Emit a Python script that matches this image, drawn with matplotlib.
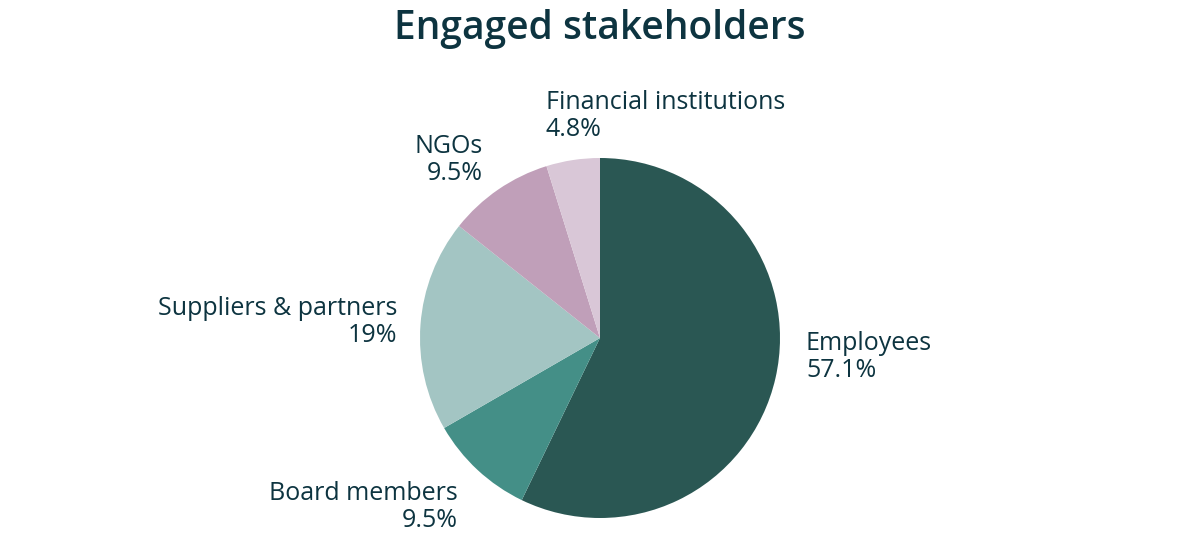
import matplotlib
matplotlib.use("Agg")
import matplotlib.pyplot as plt

plt.rcParams['font.family'] = ['Open Sans', 'DejaVu Sans']

# data
categories = ['Employees', 'Board members', 'Suppliers & partners', 'NGOs', 'Financial institutions']
shares = [57.1, 9.5, 19.0, 9.5, 4.8]
pct_labels = ['57.1%', '9.5%', '19%', '9.5%', '4.8%']
colors = ['#2a5753', '#448f87', '#a3c5c3', '#c09fb9', '#d9c7d7']

TEXT = '#0d3440'

# label anchors in pie units (radius = 1) and alignment
label_pos = [(1.144, -0.106, 'left'), (-0.789, -0.939, 'right'),
             (-1.128, 0.089, 'right'), (-0.65, 0.989, 'right'),
             (-0.30, 1.233, 'left')]

W, H = 1200, 543
fig = plt.figure(figsize=(W / 100, H / 100), dpi=100)

cx, cy, r = 600, 338, 180
ax = fig.add_axes([(cx - r) / W, (H - cy - r) / H, 2 * r / W, 2 * r / H])
ax.pie(shares, colors=colors, startangle=90, counterclock=False, radius=1,
       wedgeprops=dict(linewidth=0))
ax.set_xlim(-1, 1)
ax.set_ylim(-1, 1)
ax.set_aspect('equal')
ax.axis('off')

for name, pct, (x, y, ha) in zip(categories, pct_labels, label_pos):
    ax.text(x, y, f'{name}\n{pct}', ha=ha, va='center', fontsize=18,
            color=TEXT, linespacing=1.1, clip_on=False)

fig.text(0.5, 1 - 29 / H, 'Engaged stakeholders', ha='center', va='center',
         fontsize=28, color=TEXT, fontweight='semibold')

fig.savefig('out.png', dpi=100)
